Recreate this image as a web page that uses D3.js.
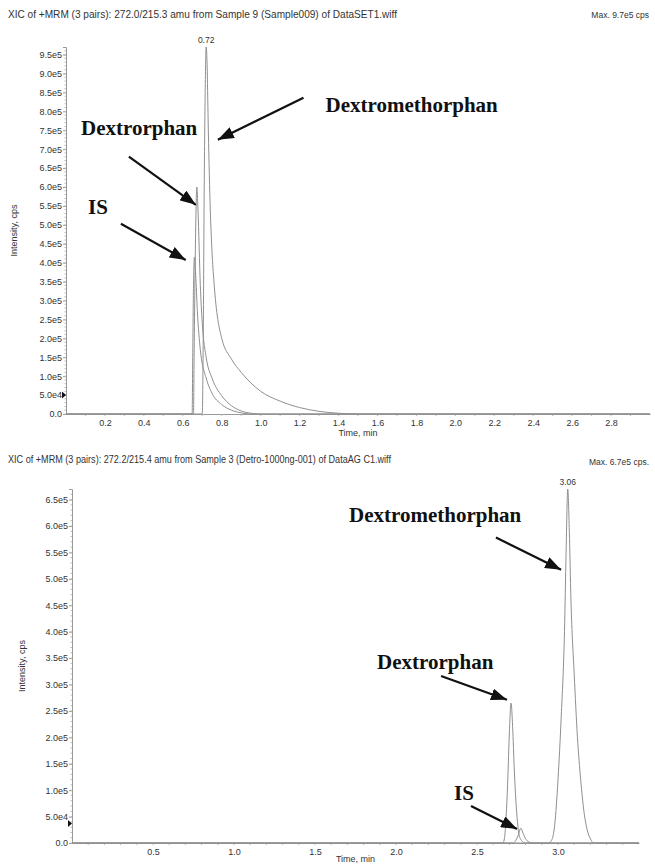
<!DOCTYPE html>
<html>
<head>
<meta charset="utf-8">
<script src="https://cdn.jsdelivr.net/npm/d3@7"></script>
<style>
  body { margin: 0; background: #fff; }
  svg text { font-family: "Liberation Sans", Arial, sans-serif; fill: #333; }
  .lbl { font-family: "Liberation Serif", "Times New Roman", serif !important; font-weight: bold; fill: #111 !important; }
</style>
</head>
<body>
<div id="chart"></div>
<script>
// ---- data (time in min, intensity in cps) ----
var topTitle = "XIC of +MRM (3 pairs): 272.0/215.3 amu from Sample 9 (Sample009) of DataSET1.wiff";
var topMax = "Max. 9.7e5 cps";
var topTicksX = [0.2, 0.4, 0.6, 0.8, 1.0, 1.2, 1.4, 1.6, 1.8, 2.0, 2.2, 2.4, 2.6, 2.8];
var topTicksY = [0, 5e4, 1e5, 1.5e5, 2e5, 2.5e5, 3e5, 3.5e5, 4e5, 4.5e5, 5e5, 5.5e5, 6e5, 6.5e5, 7e5, 7.5e5, 8e5, 8.5e5, 9e5, 9.5e5];
var topDxm = [[0, 0], [0.70, 0], [0.705, 2e5], [0.71, 6e5], [0.715, 8.5e5], [0.72, 9.7e5], [0.725, 9.2e5], [0.73, 7.8e5],
  [0.74, 5.6e5], [0.75, 4.3e5], [0.76, 3.5e5], [0.77, 2.9e5], [0.78, 2.5e5], [0.80, 2.0e5], [0.85, 1.45e5], [0.90, 1.1e5],
  [0.95, 0.82e5], [1.0, 0.6e5], [1.1, 0.34e5], [1.2, 0.17e5], [1.3, 0.07e5], [1.4, 0.02e5], [1.5, 0], [3.0, 0]];
var topDxo = [[0, 0], [0.655, 0], [0.658, 1.5e5], [0.665, 4.5e5], [0.672, 6.0e5], [0.678, 5.4e5], [0.69, 3.4e5],
  [0.70, 2.4e5], [0.72, 1.5e5], [0.75, 0.95e5], [0.80, 0.48e5], [0.85, 0.22e5], [0.90, 0.08e5], [0.95, 0.02e5], [1.0, 0], [3.0, 0]];
var topIS = [[0, 0], [0.648, 0], [0.651, 1.5e5], [0.655, 3.4e5], [0.66, 4.15e5], [0.666, 3.7e5], [0.675, 2.7e5],
  [0.69, 1.7e5], [0.72, 0.95e5], [0.75, 0.55e5], [0.80, 0.25e5], [0.85, 0.1e5], [0.90, 0.03e5], [0.95, 0], [3.0, 0]];
var topPeakLabel = { t: 0.72, v: 9.7e5, text: "0.72" };

var botTitle = "XIC of +MRM (3 pairs): 272.2/215.4 amu from Sample 3 (Detro-1000ng-001) of DataAG C1.wiff";
var botMax = "Max. 6.7e5 cps.";
var botTicksX = [0.5, 1.0, 1.5, 2.0, 2.5, 3.0];
var botTicksY = [0, 5e4, 1e5, 1.5e5, 2e5, 2.5e5, 3e5, 3.5e5, 4e5, 4.5e5, 5e5, 5.5e5, 6e5, 6.5e5];
var botDxm = [[0, 0], [2.94, 0], [2.96, 0.05e5], [2.98, 0.35e5], [3.0, 1.2e5], [3.02, 2.4e5], [3.04, 4.0e5], [3.05, 5.5e5],
  [3.06, 6.7e5], [3.07, 5.9e5], [3.08, 4.6e5], [3.10, 3.2e5], [3.12, 2.0e5], [3.14, 1.2e5], [3.16, 0.6e5],
  [3.18, 0.25e5], [3.20, 0.08e5], [3.22, 0], [3.5, 0]];
var botDxo = [[0, 0], [2.66, 0], [2.67, 0.1e5], [2.68, 0.5e5], [2.69, 1.2e5], [2.70, 2.1e5], [2.71, 2.65e5], [2.72, 2.2e5],
  [2.73, 1.4e5], [2.74, 0.8e5], [2.75, 0.4e5], [2.76, 0.15e5], [2.78, 0.03e5], [2.80, 0], [3.5, 0]];
var botIS = [[0, 0], [2.72, 0], [2.74, 0.05e5], [2.755, 0.15e5], [2.77, 0.28e5], [2.785, 0.18e5], [2.80, 0.08e5],
  [2.82, 0.02e5], [2.84, 0], [3.5, 0]];
var botPeakLabel = { t: 3.06, v: 6.7e5, text: "3.06" };

// annotations in data units: label position, arrow tail, arrow head
var topNotes = [
  { text: "Dextromethorphan", t: 1.333, v: 7.99e5, t0: 1.22, v0: 8.36e5, t1: 0.78, v1: 7.25e5 },
  { text: "Dextrorphan", t: 0.077, v: 7.38e5, t0: 0.323, v0: 6.8e5, t1: 0.667, v1: 5.53e5 },
  { text: "IS", t: 0.113, v: 5.29e5, t0: 0.282, v0: 5.03e5, t1: 0.615, v1: 4.07e5 }
];
var botNotes = [
  { text: "Dextromethorphan", t: 1.71, v: 6.08e5, t0: 2.617, v0: 5.78e5, t1: 3.019, v1: 5.17e5 },
  { text: "Dextrorphan", t: 1.883, v: 3.30e5, t0: 2.278, v0: 3.16e5, t1: 2.685, v1: 2.71e5 },
  { text: "IS", t: 2.358, v: 0.81e5, t0: 2.463, v0: 0.70e5, t1: 2.747, v1: 0.265e5 }
];

var W = 655, H = 865;
var svg = d3.select("#chart").append("svg").attr("width", W).attr("height", H);

svg.append("defs").append("marker")
  .attr("id", "head")
  .attr("viewBox", "0 0 16 12")
  .attr("refX", 16).attr("refY", 6)
  .attr("markerWidth", 16).attr("markerHeight", 12)
  .attr("markerUnits", "userSpaceOnUse")
  .attr("orient", "auto")
  .append("path").attr("d", "M0,0 L16,6 L0,12 Z").attr("fill", "#111");

function fmtY(d) {
  if (d === 0) return "0.0";
  var e = Math.floor(Math.log10(d));
  return (d / Math.pow(10, e)).toFixed(1) + "e" + e;
}

function panel(o) {
  var x = d3.scaleLinear().domain(o.xDomain).range([o.left, o.right]);
  var y = d3.scaleLinear().domain(o.yDomain).range([o.bottom, o.top]);
  var g = svg.append("g");

  g.append("text").attr("x", 8).attr("y", o.titleY).style("font-size", "10.5px")
    .attr("textLength", o.titleW).attr("lengthAdjust", "spacingAndGlyphs").text(o.title);
  g.append("text").attr("x", 649).attr("y", o.titleY + o.maxOff).attr("text-anchor", "end")
    .style("font-size", "8.5px").text(o.max);

  // y axis
  var ya = d3.axisLeft(y).tickValues(o.ticksY).tickSize(3).tickFormat(fmtY);
  var yg = g.append("g").attr("transform", "translate(" + o.left + ",0)").call(ya);
  yg.select(".domain").attr("stroke", "#999");
  yg.selectAll(".tick line").attr("stroke", "#999");
  yg.selectAll(".tick text").style("font-size", "9px").attr("fill", "#333").attr("x", -4);
  var minorY = d3.range(0, o.yDomain[1], 1e4);
  g.append("g").selectAll("line").data(minorY).join("line")
    .attr("x1", o.left - 1.5).attr("x2", o.left)
    .attr("y1", function (d) { return y(d); }).attr("y2", function (d) { return y(d); })
    .attr("stroke", "#bbb");
  // marker triangle next to 5.0e4
  g.append("path")
    .attr("d", "M" + (o.left - 4) + "," + (y(5e4) + o.triOff - 3.5) + " l4,3.5 l-4,3.5 Z")
    .attr("fill", "#111");

  // x axis
  var xa = d3.axisBottom(x).tickValues(o.ticksX).tickSize(0).tickFormat(d3.format(".1f"));
  var xg = g.append("g").attr("transform", "translate(0," + o.bottom + ")").call(xa);
  xg.select(".domain").attr("stroke", "#999");
  xg.selectAll(".tick text").style("font-size", "9px").attr("fill", "#333").attr("dy", "0.95em");
  g.append("g").selectAll("line").data(d3.range(0.1, o.xDomain[1], 0.1)).join("line")
    .attr("x1", function (d) { return x(d); }).attr("x2", function (d) { return x(d); })
    .attr("y1", o.bottom).attr("y2", o.bottom + 2).attr("stroke", "#bbb");

  g.append("text").attr("x", (o.left + o.right) / 2).attr("y", o.bottom + o.timeOff)
    .attr("text-anchor", "middle").style("font-size", "9px").text("Time, min");
  g.append("text").attr("transform", "translate(" + o.yLabelX + "," + ((o.top + o.bottom) / 2) + ") rotate(-90)")
    .attr("text-anchor", "middle").style("font-size", "9px").text("Intensity, cps");

  // traces
  var line = d3.line().curve(d3.curveMonotoneX)
    .x(function (d) { return x(d[0]); }).y(function (d) { return y(d[1]); });
  o.series.forEach(function (s) {
    g.append("path").datum(s).attr("d", line)
      .attr("fill", "none").attr("stroke", "#8f8f8f").attr("stroke-width", 1);
  });

  g.append("text").attr("x", x(o.peak.t)).attr("y", y(o.peak.v) - 4)
    .attr("text-anchor", "middle").style("font-size", "8.5px").text(o.peak.text);

  // annotations
  o.notes.forEach(function (n) {
    g.append("text").attr("class", "lbl").attr("x", x(n.t)).attr("y", y(n.v))
      .style("font-size", "21px").text(n.text);
    g.append("line")
      .attr("x1", x(n.t0)).attr("y1", y(n.v0)).attr("x2", x(n.t1)).attr("y2", y(n.v1))
      .attr("stroke", "#111").attr("stroke-width", 2.2).attr("marker-end", "url(#head)");
  });
}

panel({
  title: topTitle, max: topMax, titleY: 18, titleW: 389, maxOff: 0,
  xDomain: [0, 3.0], yDomain: [0, 9.7e5],
  left: 66, right: 650, top: 47, bottom: 414, timeOff: 22,
  ticksX: topTicksX, ticksY: topTicksY, yLabelX: 17, triOff: 0,
  series: [topIS, topDxo, topDxm], peak: topPeakLabel, notes: topNotes
});
panel({
  title: botTitle, max: botMax, titleY: 463, titleW: 383, maxOff: 2,
  xDomain: [0, 3.5], yDomain: [0, 6.7e5],
  left: 72, right: 639, top: 489, bottom: 843, timeOff: 19,
  ticksX: botTicksX, ticksY: botTicksY, yLabelX: 25, triOff: 7,
  series: [botIS, botDxo, botDxm], peak: botPeakLabel, notes: botNotes
});
</script>
</body>
</html>
